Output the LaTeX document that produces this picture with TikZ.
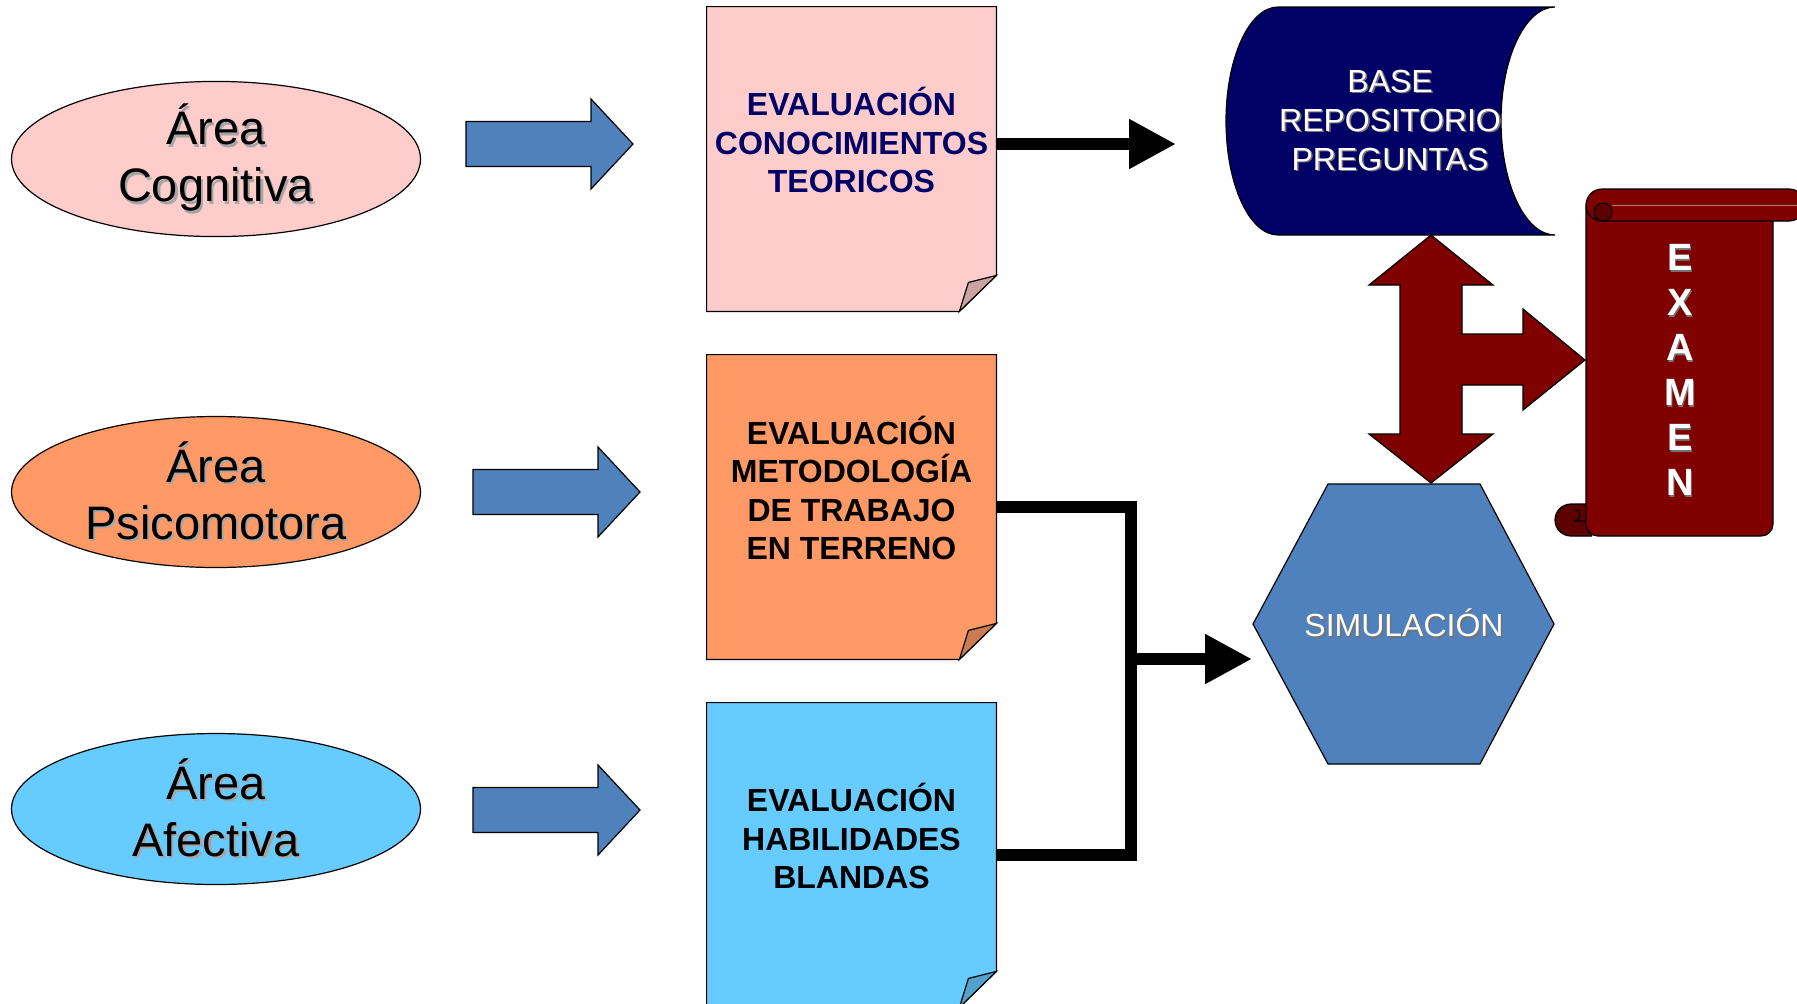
\documentclass[tikz,border=0pt]{standalone}
\usepackage{fontspec}
\setmainfont{Liberation Sans}
\usetikzlibrary{shapes.geometric,arrows.meta}

\definecolor{cogpink}{HTML}{FFCCCC}
\definecolor{cogfold}{HTML}{CCA3A3}
\definecolor{psiorange}{HTML}{FF9966}
\definecolor{psifold}{HTML}{CC7A52}
\definecolor{afeblue}{HTML}{66CCFF}
\definecolor{afefold}{HTML}{52A3CC}
\definecolor{fatblue}{HTML}{4F81BD}
\definecolor{dbnavy}{HTML}{000066}
\definecolor{exmaroon}{HTML}{800000}
\definecolor{exdark}{HTML}{5C0000}

% text with a soft drop shadow
\newcommand\shad[1]{\rlap{\hspace{1.1pt}\raisebox{-1.1pt}{\color{black!35}#1}}#1}
\newcommand\shadw[1]{\rlap{\hspace{0.8pt}\raisebox{-0.8pt}{\color{black!55}#1}}#1}

\tikzset{
  area/.style={ellipse, draw, line width=0.6pt, minimum width=204.5pt, minimum height=75.5pt,
    inner sep=0pt, align=center, font=\fontsize{23.5}{28.5}\selectfont},
  notebox/.style={rectangle, minimum width=144.5pt, minimum height=152pt, inner sep=0pt},
  notetext/.style={align=center, font=\bfseries\fontsize{16}{19.3}\selectfont},
  fatarrow/.style={draw, line width=0.6pt, fill=fatblue},
  conn/.style={line width=6pt},
  bigtip/.style={-{Triangle[length=23.5pt,width=23.5pt]}},
}

\begin{document}
\begin{tikzpicture}[x=0.5pt, y=-0.5pt]

\fill[white] (0,0) rectangle (1797,1003);
\useasboundingbox (0,0) rectangle (1797,1003);

% Areas
\node[area, fill=cogpink] (cog) at (216,159) {\shad{Área}\\\shad{Cognitiva}};
\node[area, fill=psiorange] (psi) at (216,492) {\shad{Área}\\\shad{Psicomotora}};
\node[area, fill=afeblue] (afe) at (216,809) {\shad{Área}\\\shad{Afectiva}};

% Block arrows
\foreach \x/\y in {466/144, 473/492, 473/810}
  \draw[fatarrow] (\x,\y) ++(0,-22.5) -- ++(125,0) -- ++(0,-22.5) -- ++(42,45)
    -- ++(-42,45) -- ++(0,-22.5) -- ++(-125,0) -- cycle;

% Evaluation notes
\node[notebox] (evc) at (851.5,159) {};
\node[notebox] (evm) at (851.5,507) {};
\node[notebox] (evh) at (851.5,855) {};

\foreach \n/\c/\f in {evc/cogpink/cogfold, evm/psiorange/psifold, evh/afeblue/afefold} {
  \draw[fill=\c, line width=0.6pt] (\n.north west) -- (\n.north east) -- ([yshift=18pt]\n.south east)
    -- ([xshift=-18.5pt]\n.south east) -- (\n.south west) -- cycle;
  \draw[fill=\f, line width=0.6pt] ([yshift=18pt]\n.south east) -- ([xshift=-14pt,yshift=14.5pt]\n.south east)
    -- ([xshift=-18.5pt]\n.south east) -- cycle;
}

\node[notetext, text=dbnavy] (evctxt) at ([yshift=9.5pt]evc.center) {EVALUACIÓN\\CONOCIMIENTOS\\TEORICOS};
\node[notetext] (evmtxt) at ([yshift=9.5pt]evm.center) {EVALUACIÓN\\METODOLOGÍA\\DE TRABAJO\\EN TERRENO};
\node[notetext] (evhtxt) at ([yshift=9.5pt]evh.center) {EVALUACIÓN\\HABILIDADES\\BLANDAS};

% Question bank
\draw[fill=dbnavy, line width=0.6pt] (1278,7) -- (1555,7)
  arc[start angle=90, end angle=270, x radius=27pt, y radius=57pt] -- (1278,235)
  arc[start angle=270, end angle=90, x radius=26pt, y radius=57pt] -- cycle;
\node[text=white, align=center, font=\fontsize{16}{19.5}\selectfont] (base) at (1390,121)
  {\shadw{BASE}\\\shadw{REPOSITORIO}\\\shadw{PREGUNTAS}};

% Three-way arrow
\draw[fill=exmaroon, line width=0.6pt] (1431,235) -- (1493,285) -- (1462,285) -- (1462,334)
  -- (1523,334) -- (1523,309) -- (1585,360) -- (1523,410) -- (1523,385) -- (1462,385)
  -- (1462,434) -- (1493,434) -- (1431,483) -- (1369,434) -- (1400,434) -- (1400,285)
  -- (1369,285) -- cycle;

% Simulation
\draw[fill=fatblue, line width=0.6pt] (1253,624) -- (1328,484) -- (1480,484) -- (1554,624)
  -- (1480,764) -- (1328,764) -- cycle;
\node[text=white, font=\fontsize{16}{19}\selectfont] (simu) at (1404,624) {\shadw{SIMULACIÓN}};

% Exam scroll
\draw[fill=exdark, line width=0.6pt] (1592,504) -- (1571,504)
  arc[start angle=90, end angle=270, radius=8pt] -- (1592,536);
\draw[fill=exmaroon, line width=0.6pt, rounded corners=6pt] (1586,205) -- (1586,536) -- (1773,536) -- (1773,205);
\draw[line width=0.6pt] (1586,521) -- (1574,521) arc[start angle=270, end angle=450, radius=3pt];
\draw[fill=exmaroon, line width=0.6pt, rounded corners=8pt] (1586,189) rectangle (1805,221);
\draw[exmaroon!55!white, line width=0.4pt] (1612,205) -- (1797,205);
\draw[fill=exdark, line width=0.6pt] (1603,212) circle[radius=4.5pt];
\node[text=white, align=center, font=\bfseries\fontsize{19}{22.5}\selectfont] (examen) at (1680,371)
  {\shadw{E}\\\shadw{X}\\\shadw{A}\\\shadw{M}\\\shadw{E}\\\shadw{N}};

% Connectors
\coordinate (dbin) at (1176,144);
\coordinate (jn) at (1131,659);
\coordinate (simin) at (1252,659);
\draw[conn, bigtip] (dbin -| evc.east) -- (dbin);
\draw[conn] (evm.east) -| (jn) |- (evh.east);
\draw[conn, bigtip] (jn) -- (simin);

\end{tikzpicture}
\end{document}
